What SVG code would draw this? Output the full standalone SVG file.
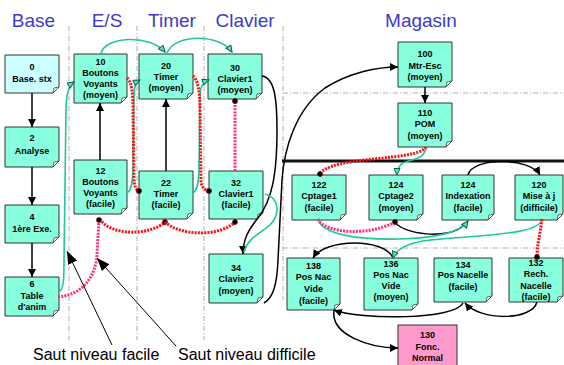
<svg xmlns="http://www.w3.org/2000/svg" width="564" height="365" viewBox="0 0 564 365">
<style>
.box{fill:#88ffdd;stroke:#333;stroke-width:1}
.fold{fill:#e8fff8;stroke:#333;stroke-width:0.7}
.t{font-family:"Liberation Sans",Arial,sans-serif;font-size:9px;font-weight:bold;text-anchor:middle;fill:#000}
.hdr{font-family:"Liberation Sans",Arial,sans-serif;font-size:19px;text-anchor:middle;fill:#3b3bcc}
.lab{font-family:"Liberation Sans",Arial,sans-serif;font-size:16px;fill:#000}
.grid{fill:none;stroke:#b0b0b0;stroke-width:1;stroke-dasharray:5 2 1 2}
.blk{fill:none;stroke:#000;stroke-width:1.5}
.grn{fill:none;stroke:#1fc79c;stroke-width:1.6}
.red{fill:none;stroke:#ff1010;stroke-width:3;stroke-dasharray:2 1.2}
.pnk{fill:none;stroke:#ff2e80;stroke-width:3;stroke-dasharray:2 1.2}
.thin{fill:none;stroke:#000;stroke-width:1}
</style>
<defs>
<marker id="ab" markerUnits="userSpaceOnUse" markerWidth="10" markerHeight="10" refX="8" refY="4" orient="auto"><path d="M0,0 L8,4 L0,8 Z" fill="#000" stroke="none"/></marker>
<marker id="ag" markerUnits="userSpaceOnUse" markerWidth="10" markerHeight="10" refX="7" refY="3.5" orient="auto"><path d="M0.5,0.5 L7,3.5 L0.5,6.5 Z" fill="#5fe0bf" stroke="#00664a" stroke-width="1" stroke-dasharray="none"/></marker>
<marker id="dm" markerUnits="userSpaceOnUse" markerWidth="8" markerHeight="8" refX="4" refY="4" orient="auto"><circle cx="4" cy="4" r="2.6" fill="#000" stroke="#aa0000" stroke-width="0.6" stroke-dasharray="none"/></marker>
<marker id="abig" markerUnits="userSpaceOnUse" markerWidth="16" markerHeight="12" refX="13" refY="5" orient="auto"><path d="M0,0 L13,5 L0,10 Z" fill="#000"/></marker>
</defs>
<rect width="564" height="365" fill="#fff"/>
<g id="headers">
<text class="hdr" x="33.5" y="27">Base</text>
<text class="hdr" x="107" y="27">E/S</text>
<text class="hdr" x="172" y="27">Timer</text>
<text class="hdr" x="245" y="27">Clavier</text>
<text class="hdr" x="421" y="27">Magasin</text>
</g>
<g id="grid">
<line class="grid" x1="69" y1="26" x2="69" y2="340"/>
<line class="grid" x1="137" y1="26" x2="137" y2="340"/>
<line class="grid" x1="204" y1="26" x2="204" y2="340"/>
<line class="grid" x1="283" y1="26" x2="283" y2="300"/>
<line class="grid" x1="283" y1="93" x2="564" y2="93"/>
<line class="grid" x1="283" y1="248" x2="564" y2="248"/>
<line x1="282" y1="161" x2="564" y2="161" stroke="#111" stroke-width="3"/>
</g>
<g id="n0"><path class="box" style="fill:#ccffff" d="M5,55 H59 V87 L53,93 H5 Z"/><path class="fold" d="M59,87 L54,88 L53,93 Z"/><text class="t" x="32" y="70">0</text><text class="t" x="32" y="82">Base. stx</text></g>
<g id="n2"><path class="box" d="M5,127 H59 V161 L53,167 H5 Z"/><path class="fold" d="M59,161 L54,162 L53,167 Z"/><text class="t" x="32" y="141">2</text><text class="t" x="32" y="154">Analyse</text></g>
<g id="n4"><path class="box" d="M5,205 H59 V237 L53,243 H5 Z"/><path class="fold" d="M59,237 L54,238 L53,243 Z"/><text class="t" x="32" y="220">4</text><text class="t" x="32" y="232">1ère Exe.</text></g>
<g id="n6"><path class="box" d="M5,277 H59 V310 L53,316 H5 Z"/><path class="fold" d="M59,310 L54,311 L53,316 Z"/><text class="t" x="32" y="287">6</text><text class="t" x="32" y="299">Table</text><text class="t" x="32" y="310">d'anim</text></g>
<g id="n10"><path class="box" d="M74,54 H127 V97 L121,103 H74 Z"/><path class="fold" d="M127,97 L122,98 L121,103 Z"/><text class="t" x="100.5" y="65">10</text><text class="t" x="100.5" y="76">Boutons</text><text class="t" x="100.5" y="87">Voyants</text><text class="t" x="100.5" y="98">(moyen)</text></g>
<g id="n12"><path class="box" d="M74,160 H127 V208 L121,214 H74 Z"/><path class="fold" d="M127,208 L122,209 L121,214 Z"/><text class="t" x="100.5" y="174">12</text><text class="t" x="100.5" y="185">Boutons</text><text class="t" x="100.5" y="196">Voyants</text><text class="t" x="100.5" y="207">(facile)</text></g>
<g id="n20"><path class="box" d="M139,54 H193 V93 L187,99 H139 Z"/><path class="fold" d="M193,93 L188,94 L187,99 Z"/><text class="t" x="166" y="69">20</text><text class="t" x="166" y="80">Timer</text><text class="t" x="166" y="91">(moyen)</text></g>
<g id="n22"><path class="box" d="M139,171 H193 V213 L187,219 H139 Z"/><path class="fold" d="M193,213 L188,214 L187,219 Z"/><text class="t" x="166" y="186">22</text><text class="t" x="166" y="197">Timer</text><text class="t" x="166" y="208">(facile)</text></g>
<g id="n30"><path class="box" d="M208,54 H262 V93 L256,99 H208 Z"/><path class="fold" d="M262,93 L257,94 L256,99 Z"/><text class="t" x="235" y="71">30</text><text class="t" x="235" y="82">Clavier1</text><text class="t" x="235" y="93">(moyen)</text></g>
<g id="n32"><path class="box" d="M209,171 H263 V213 L257,219 H209 Z"/><path class="fold" d="M263,213 L258,214 L257,219 Z"/><text class="t" x="236" y="186">32</text><text class="t" x="236" y="197">Clavier1</text><text class="t" x="236" y="208">(facile)</text></g>
<g id="n34"><path class="box" d="M209,254 H263 V297 L257,303 H209 Z"/><path class="fold" d="M263,297 L258,298 L257,303 Z"/><text class="t" x="236" y="271">34</text><text class="t" x="236" y="282">Clavier2</text><text class="t" x="236" y="294">(moyen)</text></g>
<g id="n100"><path class="box" d="M398,42 H452 V81 L446,87 H398 Z"/><path class="fold" d="M452,81 L447,82 L446,87 Z"/><text class="t" x="425" y="57">100</text><text class="t" x="425" y="69">Mtr-Esc</text><text class="t" x="425" y="80">(moyen)</text></g>
<g id="n110"><path class="box" d="M398,103 H452 V141 L446,147 H398 Z"/><path class="fold" d="M452,141 L447,142 L446,147 Z"/><text class="t" x="425" y="116">110</text><text class="t" x="425" y="127">POM</text><text class="t" x="425" y="139">(moyen)</text></g>
<g id="n122"><path class="box" d="M292,175 H346 V214 L340,220 H292 Z"/><path class="fold" d="M346,214 L341,215 L340,220 Z"/><text class="t" x="319" y="188">122</text><text class="t" x="319" y="199">Cptage1</text><text class="t" x="319" y="211">(facile)</text></g>
<g id="n124a"><path class="box" d="M369,175 H423 V214 L417,220 H369 Z"/><path class="fold" d="M423,214 L418,215 L417,220 Z"/><text class="t" x="396" y="188">124</text><text class="t" x="396" y="199">Cptage2</text><text class="t" x="396" y="211">(moyen)</text></g>
<g id="n124b"><path class="box" d="M442,175 H494 V214 L488,220 H442 Z"/><path class="fold" d="M494,214 L489,215 L488,220 Z"/><text class="t" x="468" y="188">124</text><text class="t" x="468" y="199">Indexation</text><text class="t" x="468" y="211">(facile)</text></g>
<g id="n120"><path class="box" d="M515,175 H563 V214 L557,220 H515 Z"/><path class="fold" d="M563,214 L558,215 L557,220 Z"/><text class="t" x="539" y="188">120</text><text class="t" x="539" y="199">Mise à j</text><text class="t" x="539" y="211">(difficile)</text></g>
<g id="n138"><path class="box" d="M287,258 H340 V304 L334,310 H287 Z"/><path class="fold" d="M340,304 L335,305 L334,310 Z"/><text class="t" x="313.5" y="269">138</text><text class="t" x="313.5" y="280">Pos Nac</text><text class="t" x="313.5" y="292">Vide</text><text class="t" x="313.5" y="304">(facile)</text></g>
<g id="n136"><path class="box" d="M364,258 H418 V304 L412,310 H364 Z"/><path class="fold" d="M418,304 L413,305 L412,310 Z"/><text class="t" x="391" y="267">136</text><text class="t" x="391" y="278">Pos Nac</text><text class="t" x="391" y="289">Vide</text><text class="t" x="391" y="300">(moyen)</text></g>
<g id="n134"><path class="box" d="M434,258 H492 V296 L486,302 H434 Z"/><path class="fold" d="M492,296 L487,297 L486,302 Z"/><text class="t" x="463" y="268">134</text><text class="t" x="463" y="278">Pos Nacelle</text><text class="t" x="463" y="290">(facile)</text></g>
<g id="n132"><path class="box" d="M509,258 H563 V296 L557,302 H509 Z"/><path class="fold" d="M563,296 L558,297 L557,302 Z"/><text class="t" x="536" y="266">132</text><text class="t" x="536" y="277">Rech.</text><text class="t" x="536" y="289">Nacelle</text><text class="t" x="536" y="300">(facile)</text></g>
<g id="n130"><rect class="box" style="fill:#ff99cc" x="398" y="325" width="59" height="45"/><text class="t" x="427.5" y="338">130</text><text class="t" x="427.5" y="350">Fonc.</text><text class="t" x="427.5" y="361">Normal</text></g>
<g id="connectors">
<line class="blk" x1="32" y1="93" x2="32" y2="127" marker-end="url(#ab)"/>
<line class="blk" x1="32" y1="167" x2="32" y2="205" marker-end="url(#ab)"/>
<line class="blk" x1="32" y1="243" x2="32" y2="277" marker-end="url(#ab)"/>
<line class="blk" x1="100" y1="160" x2="100" y2="103" marker-end="url(#ab)"/>
<line class="blk" x1="166" y1="171" x2="166" y2="99" marker-end="url(#ab)"/>
<line class="blk" x1="425" y1="87" x2="425" y2="103" marker-end="url(#ab)"/>
<path class="blk" d="M262,76 C275,78 277,100 277,130 C277,175 272,200 258,218 C248,230 243,240 243,254" marker-end="url(#ab)"/>
<path class="blk" d="M264,303 C273,298 277,285 278,260 L282,180 C284,150 295,110 325,88 C350,72 378,67 398,67" marker-end="url(#ab)"/>
<path class="blk" d="M468,175 C472,157 530,157 540,175" marker-end="url(#ab)"/>
<path class="blk" d="M394,221 C402,235 450,240 464,225"/>
<path class="blk" d="M393,258 C385,238 325,238 313,258" marker-end="url(#ab)"/>
<path class="blk" d="M537,302 C532,321 480,321 465,303" marker-end="url(#ab)"/>
<path class="blk" d="M463,303 C455,320 360,320 334,310" marker-end="url(#ab)"/>
<path class="blk" d="M334,310 C330,335 370,348 398,348" marker-end="url(#ab)"/>
<path class="grn" d="M101,54 C104,36 150,34 165,52" marker-end="url(#ag)"/>
<path class="grn" d="M167,53 C175,33 220,34 232,52" marker-end="url(#ag)"/>
<path class="grn" d="M59,292 C64,288 64,280 64,260 L66,110 C66,95 68,86 74,82" marker-end="url(#ag)"/>
<path class="grn" d="M127,193 C132,190 133,180 133,165 L134,95 C134,86 136,82 140,80" marker-end="url(#ag)"/>
<path class="grn" d="M193,193 C198,190 199,180 199,165 L200,95 C200,86 203,82 209,80" marker-end="url(#ag)"/>
<path class="grn" d="M265,194 C280,198 280,215 270,225 C258,235 248,238 244,252"/>
<path class="grn" d="M425,147 C428,158 410,160 403,163 C398,166 397,170 397,175" marker-end="url(#ag)"/>
<path class="grn" d="M318,219 C322,235 360,240 400,239 C440,238 460,232 468,221" marker-end="url(#ag)"/>
<path class="grn" d="M542,219 C540,235 480,235 430,240 C405,243 396,250 393,258" marker-end="url(#ag)"/>
<path class="red" d="M127,78 C132,82 133,95 133,110 L134,178 C134,186 136,190 139,191" marker-end="url(#dm)"/>
<path class="red" d="M193,76 C198,80 200,92 200,110 L201,180 C201,186 204,190 209,191" marker-end="url(#dm)"/>
<path class="pnk" d="M235,171 L235,101" marker-end="url(#dm)"/>
<path class="red" d="M100,219 C110,236 150,236 165,222" marker-end="url(#dm)"/>
<path class="red" d="M165,222 C180,236 220,237 235,222" marker-end="url(#dm)"/>
<path class="pnk" d="M58,297 C80,295 95,280 97,255 L99,220" marker-end="url(#dm)"/>
<path class="red" d="M426,147 C420,158 370,157 340,164 C328,167 322,170 320,174" marker-end="url(#dm)"/>
<path class="pnk" d="M318,219 C325,234 370,236 395,222" marker-end="url(#dm)"/>
<path class="red" d="M542,219 C540,235 537,245 537,257" marker-end="url(#dm)"/>
<line class="thin" x1="112" y1="345" x2="67" y2="251" marker-end="url(#abig)"/>
<line class="thin" x1="176" y1="346" x2="97" y2="258" marker-end="url(#abig)"/>
</g>
<g id="labels">
<text class="lab" x="33" y="360">Saut niveau facile</text>
<text class="lab" x="178" y="360">Saut niveau difficile</text>
</g>
</svg>
